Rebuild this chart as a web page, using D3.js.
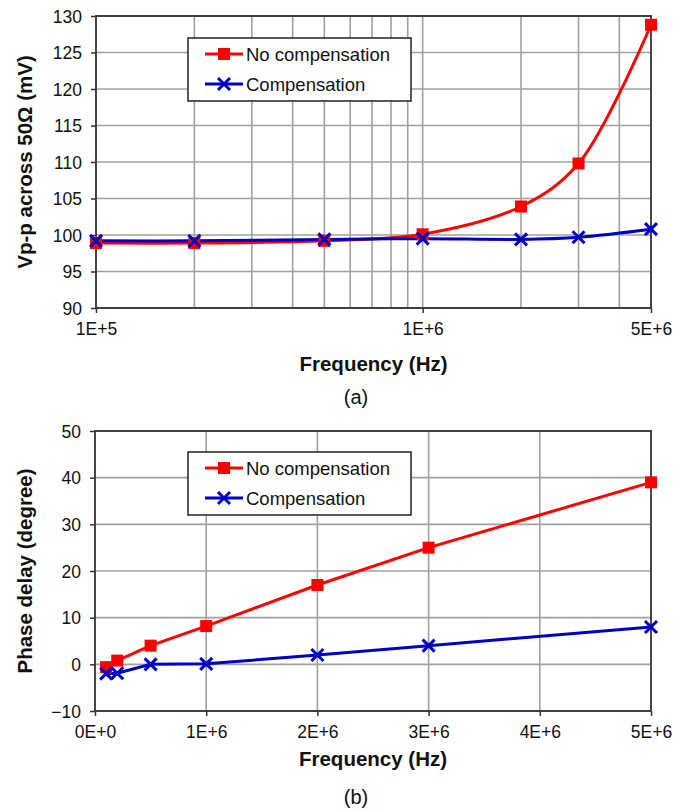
<!DOCTYPE html>
<html lang="en">
<head>
<meta charset="utf-8">
<script src="https://d3js.org/d3.v7.min.js"></script>
<style>
  body { margin: 0; background: #fff; }
  text { font-family: "Liberation Sans", Arial, sans-serif; }
</style>
</head>
<body>
<script>
// panel (a): amplitude vs frequency (log x)
var freqA = [1e5, 2e5, 5e5, 1e6, 2e6, 3e6, 5e6];
var noCompA = [98.9, 98.9, 99.2, 100.1, 103.9, 109.8, 128.8];
var compA = [99.2, 99.2, 99.4, 99.5, 99.4, 99.7, 100.8];
var xTicksA = [1e5, 1e6, 5e6];
var xLabelsA = ["1E+5", "1E+6", "5E+6"];
var xGridA = [2e5, 3e5, 4e5, 5e5, 6e5, 7e5, 8e5, 9e5, 1e6, 2e6, 3e6, 4e6];
var yTicksA = [90, 95, 100, 105, 110, 115, 120, 125, 130];

// panel (b): phase delay vs frequency (linear x)
var freqB = [1e5, 2e5, 5e5, 1e6, 2e6, 3e6, 5e6];
var noCompB = [-0.6, 0.8, 4.0, 8.2, 17.0, 25.0, 39.0];
var compB = [-2.0, -1.9, 0.0, 0.1, 2.0, 4.0, 8.0];
var xTicksB = [0, 1e6, 2e6, 3e6, 4e6, 5e6];
var xLabelsB = ["0E+0", "1E+6", "2E+6", "3E+6", "4E+6", "5E+6"];
var xGridB = [1e6, 2e6, 3e6, 4e6];
var yTicksB = [-10, 0, 10, 20, 30, 40, 50];

var seriesNames = ["No compensation", "Compensation"];
var red = "#ff0000", blue = "#0000c4";

var svg = d3.select("body").append("svg")
    .attr("width", 690)
    .attr("height", 810);

function drawPanel(o) {
  var g = svg.append("g");
  var x = o.x, y = o.y;
  var x0 = x.range()[0], x1 = x.range()[1];
  var y0 = y.range()[0], y1 = y.range()[1];

  // grid
  g.selectAll(".hg").data(o.yTicks).enter().append("line")
      .attr("x1", x0).attr("x2", x1)
      .attr("y1", function(d) { return y(d); })
      .attr("y2", function(d) { return y(d); })
      .attr("stroke", "#a0a0a0").attr("stroke-width", 1.6);
  g.selectAll(".vg").data(o.xGrid).enter().append("line")
      .attr("y1", y0).attr("y2", y1)
      .attr("x1", function(d) { return x(d); })
      .attr("x2", function(d) { return x(d); })
      .attr("stroke", "#a0a0a0").attr("stroke-width", 1.6);

  // axes
  var xa = g.append("g").attr("transform", "translate(0," + y0 + ")")
      .call(d3.axisBottom(x).tickValues(o.xTicks).tickSize(5).tickPadding(6)
        .tickFormat(function(d, i) { return o.xLabels[i]; }));
  var ya = g.append("g").attr("transform", "translate(" + x0 + ",0)")
      .call(d3.axisLeft(y).tickValues(o.yTicks).tickSize(5).tickPadding(9)
        .tickFormat(d3.format("d")));
  [xa, ya].forEach(function(a) {
    a.select(".domain").remove();
    a.selectAll(".tick line").attr("stroke", "#333").attr("stroke-width", 1.5);
    a.selectAll("text").attr("font-size", 17.5).attr("fill", "#111")
      .attr("font-family", "Liberation Sans, Arial, sans-serif");
  });
  xa.selectAll("text").attr("dy", "0.9em");
  ya.selectAll("text").attr("dy", "0.36em");

  // frame
  g.append("rect")
      .attr("x", x0).attr("y", y1)
      .attr("width", x1 - x0).attr("height", y0 - y1)
      .attr("fill", "none").attr("stroke", "#333").attr("stroke-width", 1.8);

  // series
  var line = d3.line()
      .x(function(d) { return x(d[0]); })
      .y(function(d) { return y(d[1]); })
      .curve(o.curve);
  var sets = [
    { pts: d3.zip(o.freq, o.noComp), color: red, mark: "sq" },
    { pts: d3.zip(o.freq, o.comp), color: blue, mark: "x" }
  ];
  sets.forEach(function(s) {
    g.append("path").datum(s.pts)
        .attr("d", line)
        .attr("fill", "none")
        .attr("stroke", s.color)
        .attr("stroke-width", 3);
  });
  sets.forEach(function(s) {
    s.pts.forEach(function(p) {
      drawMark(g, x(p[0]), y(p[1]), s.mark, s.color);
    });
  });

  // legend
  var lg = g.append("g").attr("transform", "translate(" + o.legend[0] + "," + o.legend[1] + ")");
  lg.append("rect")
      .attr("width", 223).attr("height", 63)
      .attr("fill", "#fff").attr("stroke", "#222").attr("stroke-width", 1.5);
  sets.forEach(function(s, i) {
    var ly = 16 + i * 30;
    lg.append("line")
        .attr("x1", 17).attr("x2", 55).attr("y1", ly).attr("y2", ly)
        .attr("stroke", s.color).attr("stroke-width", 3);
    drawMark(lg, 36, ly, s.mark, s.color);
    lg.append("text")
        .attr("x", 58).attr("y", ly).attr("dy", "0.36em")
        .attr("font-size", 18.5).attr("fill", "#111")
        .text(seriesNames[i]);
  });

  // titles
  svg.append("text")
      .attr("x", (x0 + x1) / 2).attr("y", o.xTitleY)
      .attr("text-anchor", "middle")
      .attr("font-size", 20.5).attr("font-weight", "bold").attr("fill", "#111")
      .text("Frequency (Hz)");
  svg.append("text")
      .attr("transform", "translate(32," + (y0 + y1) / 2 + ") rotate(-90)")
      .attr("text-anchor", "middle")
      .attr("font-size", 20.5).attr("font-weight", "bold").attr("fill", "#111")
      .text(o.yTitle);
  svg.append("text")
      .attr("x", 356).attr("y", o.capY)
      .attr("text-anchor", "middle")
      .attr("font-size", 20).attr("fill", "#111")
      .text(o.cap);
}

function drawMark(g, cx, cy, kind, color) {
  if (kind === "sq") {
    g.append("rect")
        .attr("x", cx - 6).attr("y", cy - 6)
        .attr("width", 12).attr("height", 12)
        .attr("fill", color);
  } else {
    g.append("path")
        .attr("d", "M" + (cx - 6) + "," + (cy - 6) + "L" + (cx + 6) + "," + (cy + 6) +
                   "M" + (cx - 6) + "," + (cy + 6) + "L" + (cx + 6) + "," + (cy - 6))
        .attr("stroke", color).attr("stroke-width", 3).attr("fill", "none");
  }
}

drawPanel({
  x: d3.scaleLog().domain([1e5, 5e6]).range([96, 651]),
  y: d3.scaleLinear().domain([90, 130]).range([308, 16]),
  freq: freqA, noComp: noCompA, comp: compA,
  xTicks: xTicksA, xLabels: xLabelsA, xGrid: xGridA, yTicks: yTicksA,
  curve: d3.curveCatmullRom.alpha(0.5),
  legend: [188, 38],
  xTitleY: 371, yTitle: "Vp-p across 50\u03A9 (mV)",
  cap: "(a)", capY: 404
});

drawPanel({
  x: d3.scaleLinear().domain([0, 5e6]).range([95, 651]),
  y: d3.scaleLinear().domain([-10, 50]).range([711, 431]),
  freq: freqB, noComp: noCompB, comp: compB,
  xTicks: xTicksB, xLabels: xLabelsB, xGrid: xGridB, yTicks: yTicksB,
  curve: d3.curveLinear,
  legend: [188, 452],
  xTitleY: 766, yTitle: "Phase delay (degree)",
  cap: "(b)", capY: 804
});
</script>
</body>
</html>
